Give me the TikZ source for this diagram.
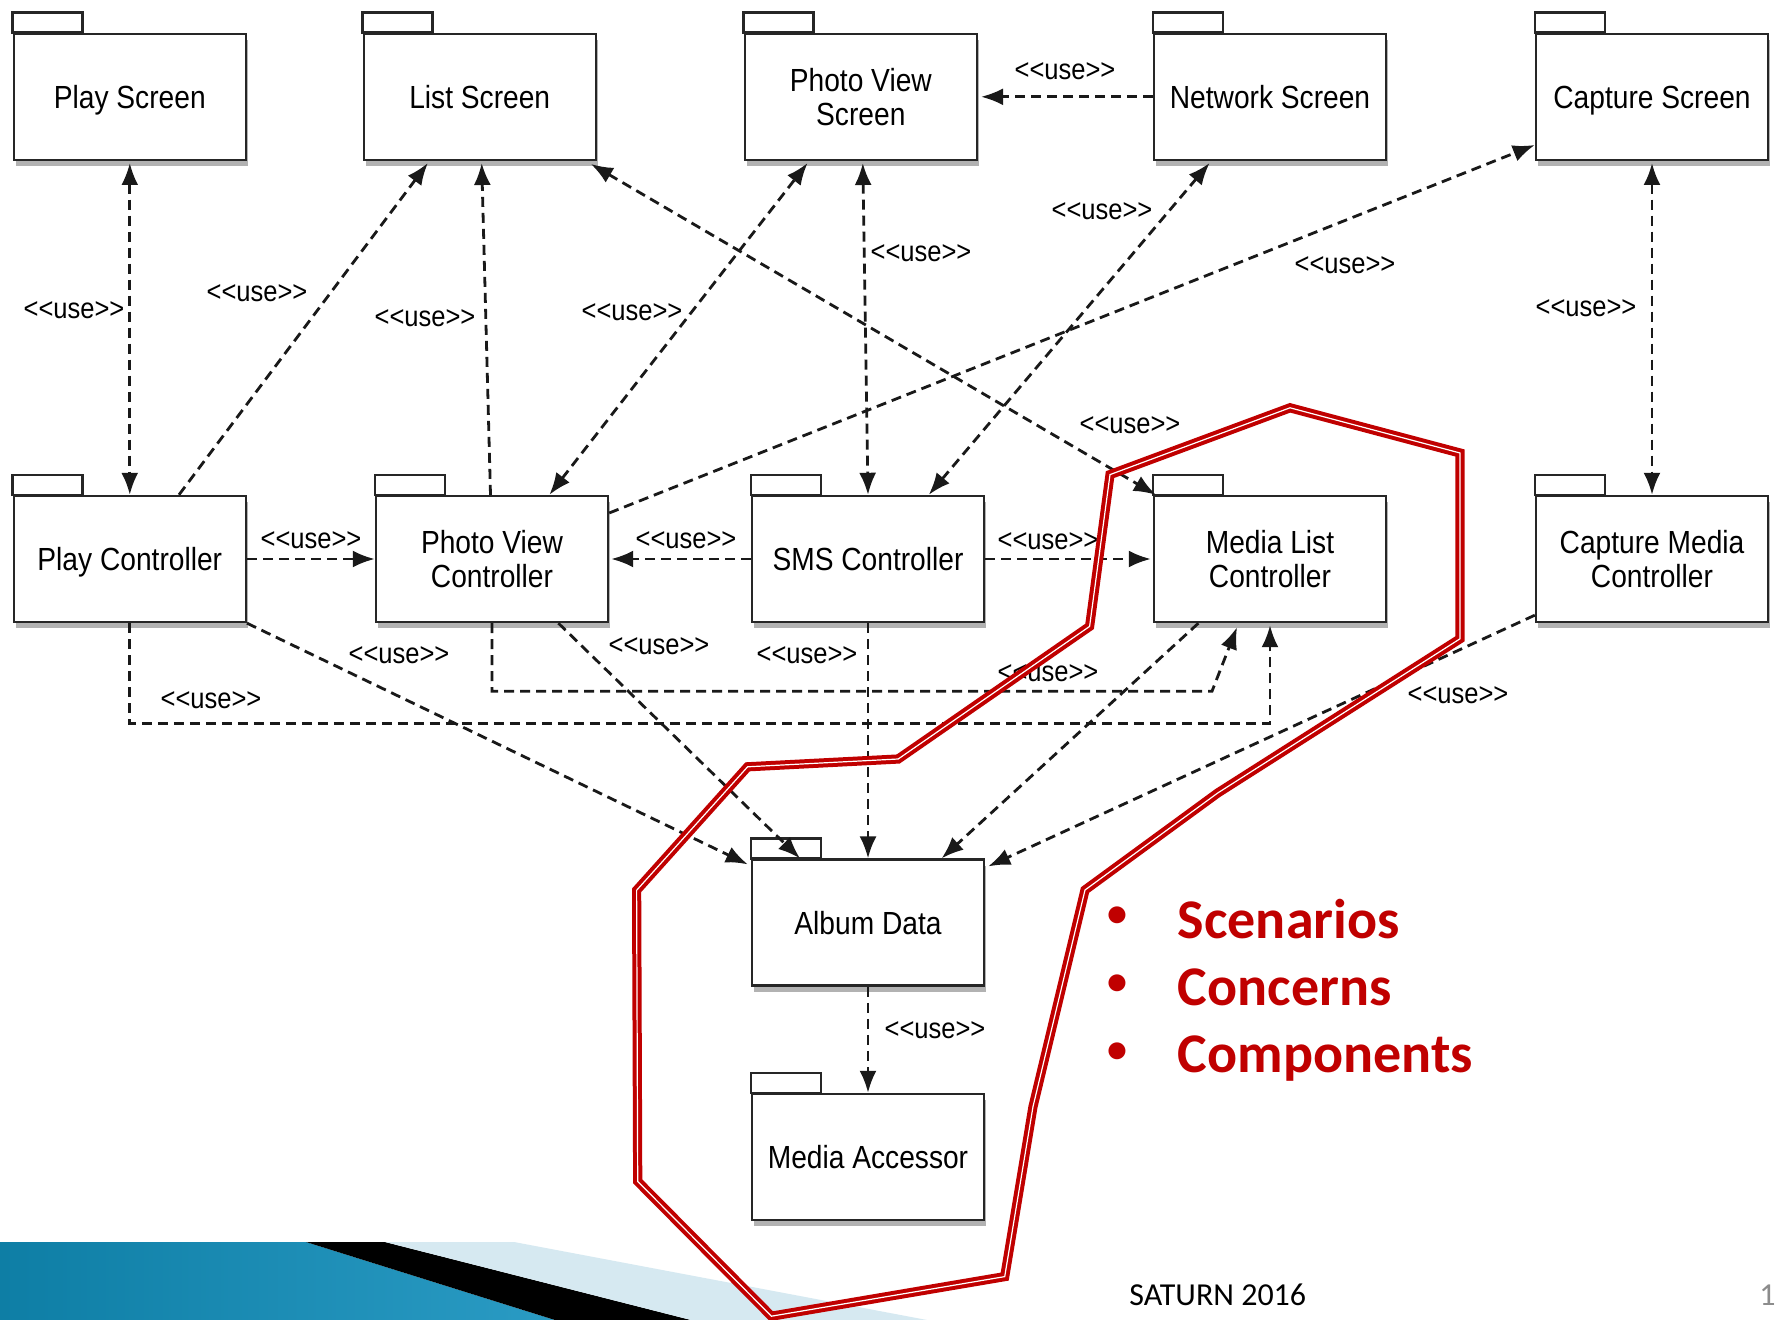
\documentclass[tikz,border=0pt]{standalone}
\usepackage{fontspec}
\usepackage{tikz}
\usetikzlibrary{arrows.meta,shadows}
\newfontfamily\umlfont[FakeStretch=0.88]{Liberation Sans}
\newfontfamily\slidefont{Carlito}
\definecolor{accent}{HTML}{C00000}
\definecolor{banddark}{HTML}{0E7EA5}
\definecolor{bandmid}{HTML}{58BEDD}
\definecolor{bandend}{HTML}{2A9BC4}
\definecolor{bandlight}{HTML}{D6E9F1}
\newcommand{\stereo}{<\kern0pt<use>\kern0pt>}

\begin{document}
\begin{tikzpicture}[x=0.5pt, y=-0.5pt]
    \tikzstyle{package}=[rectangle, draw=black!85, fill=white, line width=1.2pt, minimum width=116pt, minimum height=63pt, inner sep=0pt, align=center, font=\umlfont\fontsize{16}{17}\selectfont, drop shadow={shadow xshift=1.2pt, shadow yshift=-3pt, opacity=.6}]
    \tikzstyle{oneline}=[text height=12pt, text depth=0.6pt]
    \tikzstyle{tab}=[draw=black!85, fill=white, line width=1.2pt]
    \tikzstyle{annot}=[inner sep=0pt, font=\umlfont\fontsize{14.5}{16}\selectfont]
    \tikzstyle{dep}=[draw=black!90, line width=1.4pt, dash pattern=on 5pt off 3pt, -{Latex[length=11pt,width=8.5pt]}]
    \tikzstyle{both}=[dep, {Latex[length=11pt,width=8.5pt]}-{Latex[length=11pt,width=8.5pt]}]
    \tikzstyle{outline}=[draw=accent, line width=2pt, double=white, double distance=0.6pt]
    \tikzstyle{bulletitem}=[inner sep=0pt, text=accent, font=\slidefont\bfseries\fontsize{28}{34}\selectfont]
    \tikzstyle{footer}=[inner sep=0pt, font=\slidefont\fontsize{16}{18}\selectfont]

    \useasboundingbox (0,0) rectangle (1776,1320);
    \fill[white] (0,0) rectangle (1776,1320);

    % slide decoration
    \shade[left color=banddark, middle color=bandmid, right color=bandend] (0,1242) -- (306,1242) -- (555,1320) -- (0,1320) -- cycle;
    \fill[black] (306,1242) -- (385,1242) -- (691,1320) -- (555,1320) -- cycle;
    \fill[bandlight] (385,1242) -- (514,1242) -- (927,1320) -- (691,1320) -- cycle;

    % packages
    \node[package, oneline] (ps) at (129.8,96.8) {Play Screen};
    \node[package, oneline] (ls) at (479.7,96.8) {List Screen};
    \node[package] (pvs) at (860.8,96.8) {Photo View\\Screen};
    \node[package, oneline] (ns) at (1270,96.8) {Network Screen};
    \node[package, oneline] (cs) at (1652,96.8) {Capture Screen};
    \node[package, oneline] (pc) at (129.8,559) {Play Controller};
    \node[package] (pvc) at (492,559) {Photo View\\Controller};
    \node[package, oneline] (sms) at (868,559) {SMS Controller};
    \node[package] (mlc) at (1270,559) {Media List\\Controller};
    \node[package] (cmc) at (1652,559) {Capture Media\\Controller};
    \node[package, oneline] (ad) at (868,922.6) {Album Data};
    \node[package, oneline] (ma) at (868,1157) {Media Accessor};
    \foreach \n in {ps,ls,pvs,ns,cs,pc,pvc,sms,mlc,cmc,ad,ma}
        \draw[tab] (\n.north west) rectangle ++(70,-20);

    % dependencies
    \draw[both] ([yshift=-1pt]ps.south) -- (pc.north);
    \draw[dep] ([xshift=24.6pt]pc.north) -- ([xshift=-25.9pt,yshift=-1pt]ls.south);
    \draw[dep] ([xshift=-0.75pt]pvc.north) -- ([xshift=1pt,yshift=-1pt]ls.south);
    \draw[both] ([xshift=-3pt,yshift=-1.5pt]ls.south east) -- ([xshift=1.5pt]mlc.north west);
    \draw[both] ([xshift=28.7pt]pvc.north) -- ([xshift=-26.6pt,yshift=-1pt]pvs.south);
    \draw[both] ([xshift=1pt,yshift=-1pt]pvs.south) -- (sms.north);
    \draw[dep] (ns.west) -- ([xshift=1.5pt]pvs.east);
    \draw[both] ([xshift=30.4pt]sms.north) -- ([xshift=-30.2pt,yshift=-1pt]ns.south);
    \draw[dep] ([yshift=23pt]pvc.east) -- ([yshift=8pt]cs.south west);
    \draw[both] ([yshift=-1pt]cs.south) -- (cmc.north);
    \draw[dep] (pc.east) -- (pvc.west);
    \draw[dep] (sms.west) -- ([xshift=1pt]pvc.east);
    \draw[dep] (sms.east) -- ([xshift=-1pt]mlc.west);
    \draw[dep] (pc.south east) -- ([xshift=-1.5pt,yshift=-3pt]ad.north west);
    \draw[dep] ([xshift=33.2pt]pvc.south) -- ([xshift=-34pt]ad.north);
    \draw[dep] (sms.south) -- (ad.north);
    \draw[dep] ([xshift=-35.8pt]mlc.south) -- ([xshift=36.8pt]ad.north);
    \draw[dep] ([yshift=4pt]cmc.south west) -- ([xshift=1.5pt,yshift=-4pt]ad.north east);
    \draw[dep] (pvc.south) -- ++(0,68) -- ++(720,0) -- ([xshift=-16.5pt,yshift=-2pt]mlc.south);
    \draw[dep] (pc.south) -- ++(0,100) -| ([yshift=-1pt]mlc.south);
    \draw[dep] (ad.south) -- (ma.north);

    \node[annot] (u1) at (74,310) {\stereo};
    \node[annot] (u2) at (257,293) {\stereo};
    \node[annot] (u3) at (425,318) {\stereo};
    \node[annot] (u4) at (1130,425) {\stereo};
    \node[annot] (u5) at (632,312) {\stereo};
    \node[annot] (u6) at (921,253) {\stereo};
    \node[annot] (u7) at (1065,71) {\stereo};
    \node[annot] (u8) at (1102,211) {\stereo};
    \node[annot] (u9) at (1345,265) {\stereo};
    \node[annot] (u10) at (1586,308) {\stereo};
    \node[annot] (u11) at (311,540) {\stereo};
    \node[annot] (u12) at (686,540) {\stereo};
    \node[annot] (u13) at (1048,541) {\stereo};
    \node[annot] (u14) at (399,655) {\stereo};
    \node[annot] (u15) at (659,646) {\stereo};
    \node[annot] (u16) at (807,655) {\stereo};
    \node[annot] (u18) at (1458,695) {\stereo};
    \node[annot] (u19) at (1048,673) {\stereo};
    \node[annot] (u20) at (211,700) {\stereo};
    \node[annot] (u21) at (935,1030) {\stereo};

    % highlighted region
    \draw[outline] (1110,474.6) -- (1290,407.8) -- (1460,453) -- (1460,638.8) -- (1217.7,793) -- (1085,890) -- (1033,1106.6) -- (1004.7,1276.6) -- (771.4,1316.2) -- (637.7,1181.4) -- (636.6,890.3) -- (747.6,766.8) -- (898.2,759) -- (1089.6,626.4) -- cycle;

    \node[bulletitem, font=\slidefont\bfseries\fontsize{20}{24}\selectfont] (b1) at (1117,917) {•};
    \node[bulletitem, font=\slidefont\bfseries\fontsize{20}{24}\selectfont] (b2) at (1117,985) {•};
    \node[bulletitem, font=\slidefont\bfseries\fontsize{20}{24}\selectfont] (b3) at (1117,1053) {•};
    \node[bulletitem, anchor=base west] (t1) at (1177.5,938) {Scenarios};
    \node[bulletitem, anchor=base west] (t2) at (1177.5,1005.5) {Concerns};
    \node[bulletitem, anchor=base west] (t3) at (1177.5,1072) {Components};

    \node[footer, anchor=base west] (foot) at (1129,1305) {SATURN 2016};
    \node[footer, anchor=base west, text=black!45] (pnum) at (1759,1305) {1};
\end{tikzpicture}
\end{document}
